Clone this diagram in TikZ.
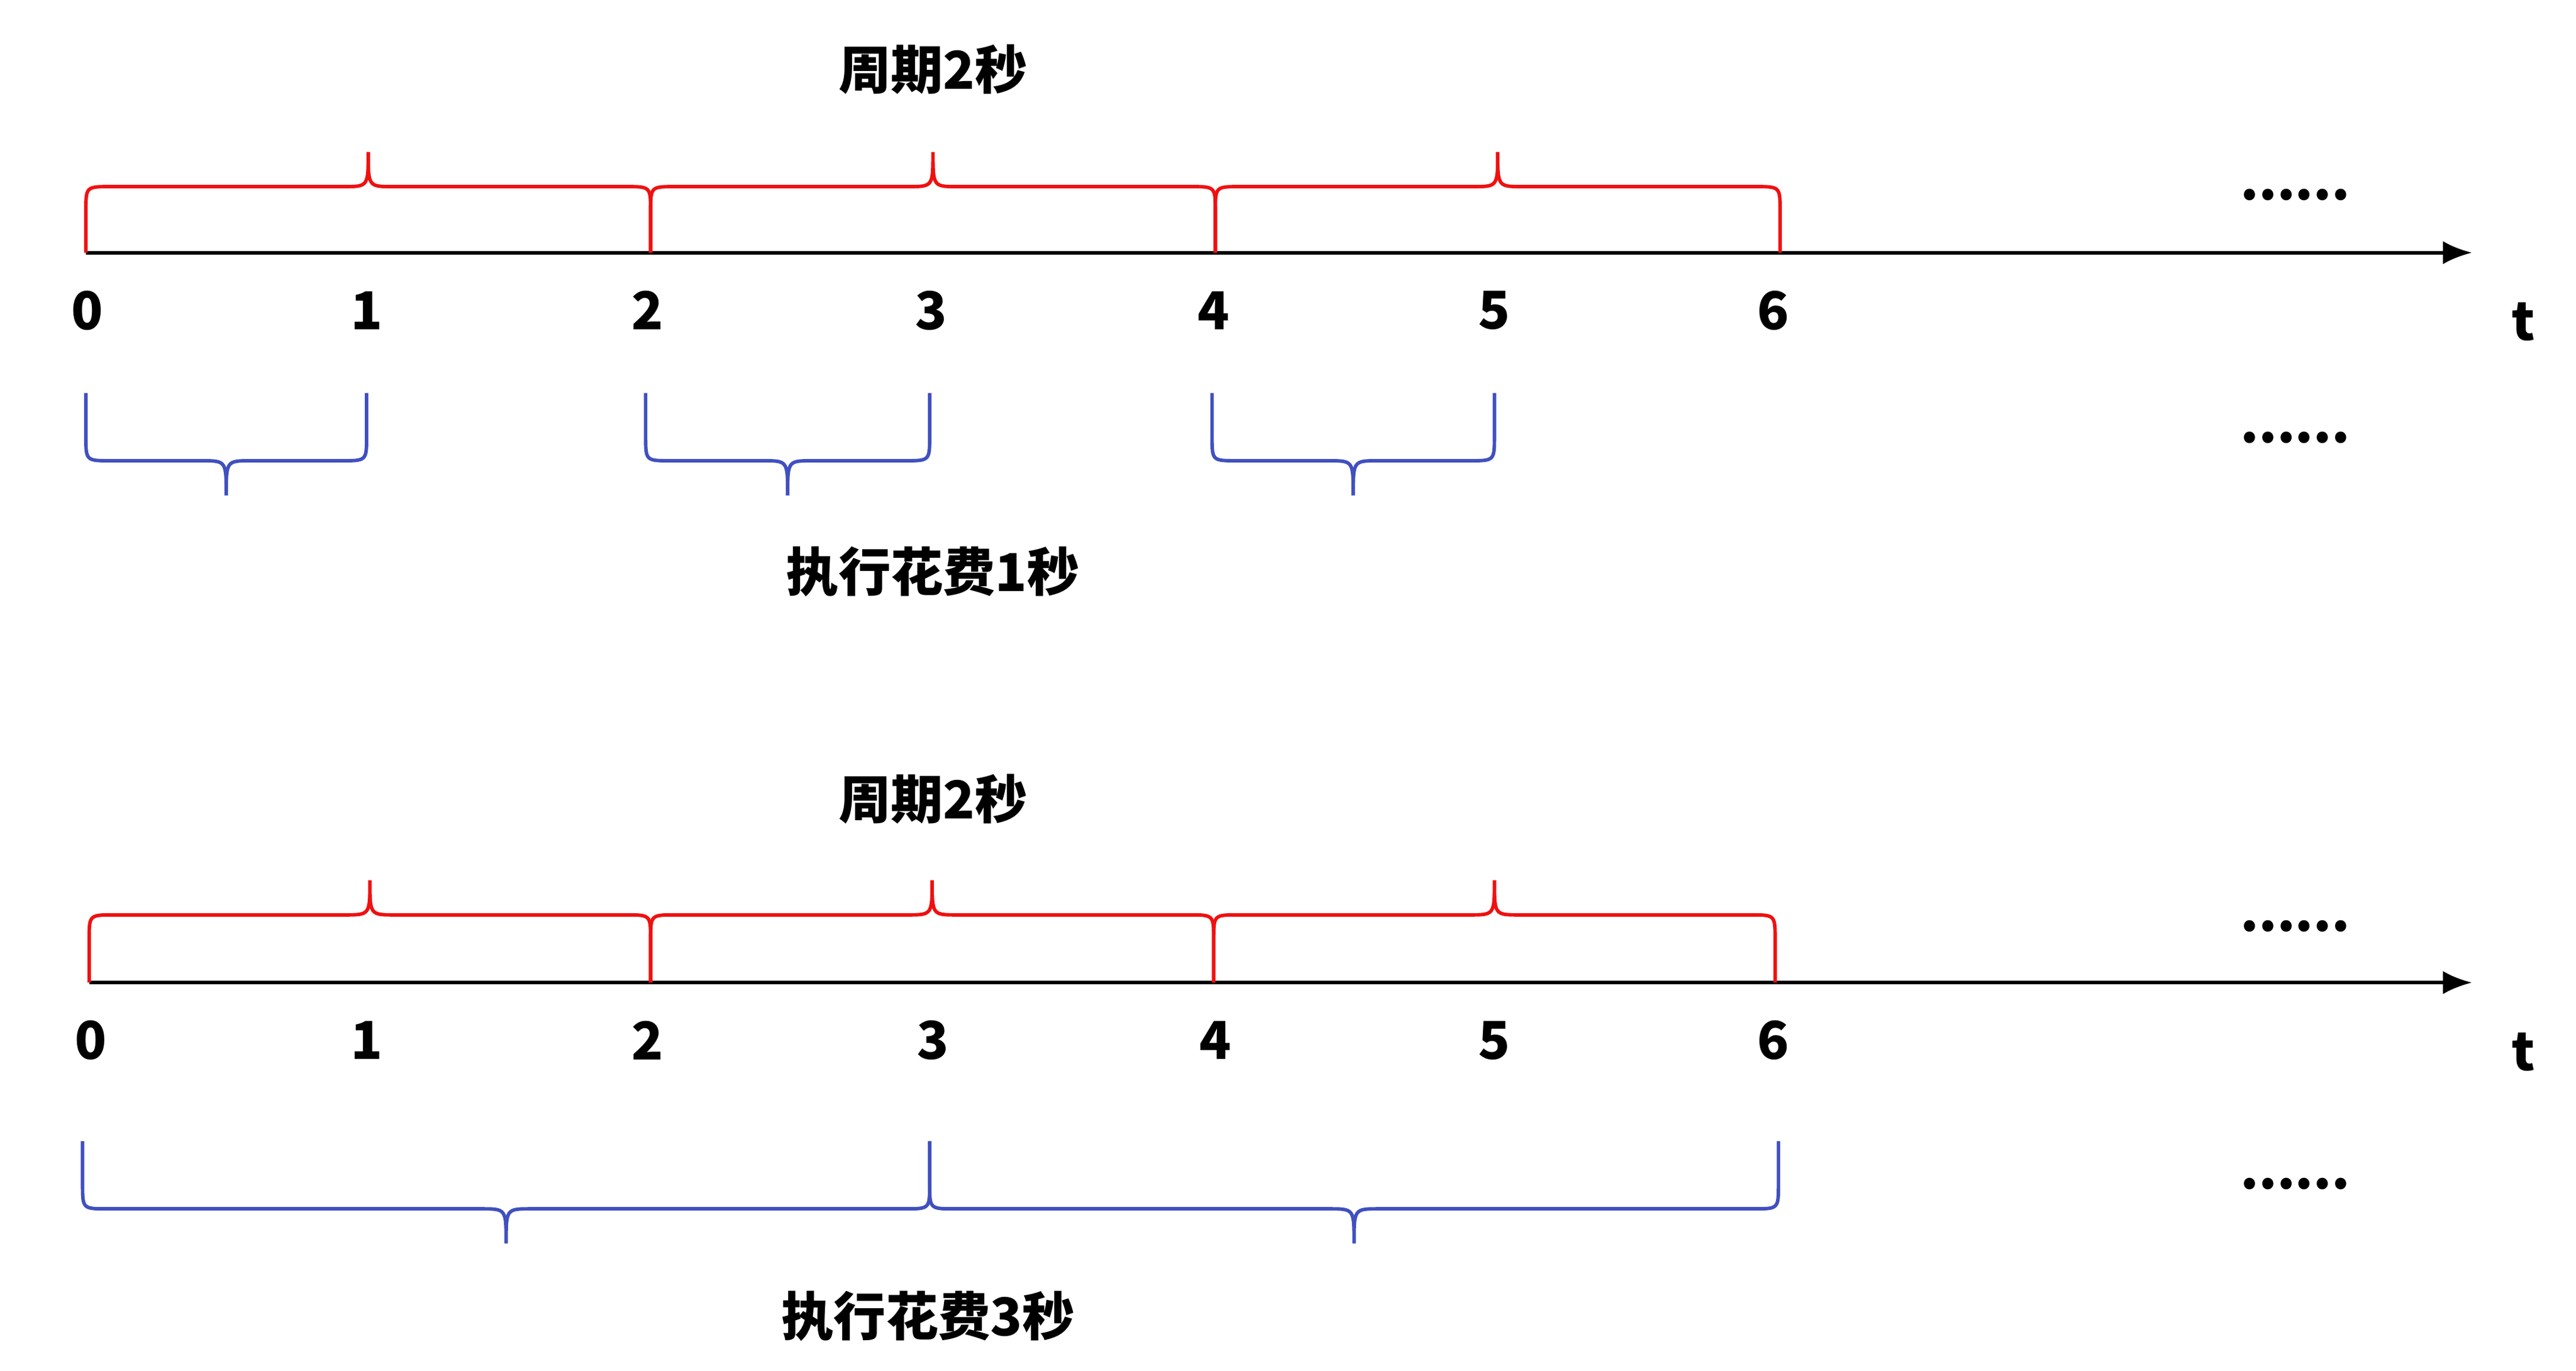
\documentclass[tikz,border=0pt]{standalone}
\usepackage{fontspec}
\setmainfont{Noto Sans CJK SC}
\usetikzlibrary{arrows.meta}
\definecolor{rc}{HTML}{F01010}
\definecolor{bc}{HTML}{4050C0}
\newcommand{\brc}[7]{% style x1 x2 yb yl yt vr (signed)
  \pgfmathsetmacro{\mm}{(#2+#3)/2}
  \draw[#1] (#2,#4) -- (#2,#5+#7) .. controls (#2,#5) .. (#2+15,#5) -- (\mm-15,#5) .. controls (\mm,#5) .. (\mm,#6)
  .. controls (\mm,#5) .. (\mm+15,#5) -- (#3-15,#5) .. controls (#3,#5) .. (#3,#5+#7) -- (#3,#4);}
\begin{document}
\begin{tikzpicture}[x=0.01cm,y=-0.01cm,
  lbl/.style={font=\fontsize{9}{10}\selectfont\bfseries},
  axis/.style={line width=0.6pt,-{Latex[length=5pt,width=4pt]}},
  rb/.style={rc,line width=0.6pt},
  bb/.style={bc,line width=0.6pt}]
\useasboundingbox (0,0) rectangle (1560,830);
% ---- top
\coordinate (a0) at (52,153); \coordinate (a1) at (1497,153);
\draw[axis] (a0) -- (a1);
\foreach \x/\t in {53/0,222/1,392/2,564/3,735/4,905/5,1074/6}{\node[lbl] (ta\t) at (\x,188) {\t};}
\node[lbl] (tat) at (1528,195) {t};
\brc{rb}{52}{394}{153}{113}{92}{15}
\brc{rb}{394}{736}{153}{113}{92}{15}
\brc{rb}{736}{1078}{153}{113}{92}{15}
\brc{bb}{52}{222}{238}{279}{300}{-15}
\brc{bb}{391}{563}{238}{279}{300}{-15}
\brc{bb}{734}{905}{238}{279}{300}{-15}
\node[lbl] (p1) at (565,42) {周期2秒};
\node[lbl] (e1) at (565,346) {执行花费1秒};
\node[lbl] (d1) at (1390,118) {......};
\node[lbl] (d2) at (1390,265) {......};
% ---- bottom
\coordinate (b0) at (54,595); \coordinate (b1) at (1497,595);
\draw[axis] (b0) -- (b1);
\foreach \x/\t in {55/0,222/1,392/2,565/3,736/4,905/5,1074/6}{\node[lbl] (tb\t) at (\x,630) {\t};}
\node[lbl] (tbt) at (1528,637) {t};
\brc{rb}{54}{394}{595}{554}{533}{15}
\brc{rb}{394}{735}{595}{554}{533}{15}
\brc{rb}{735}{1075}{595}{554}{533}{15}
\brc{bb}{50}{563}{691}{732}{753}{-15}
\brc{bb}{563}{1077}{691}{732}{753}{-15}
\node[lbl] (p2) at (565,484) {周期2秒};
\node[lbl] (e2) at (562,797) {执行花费3秒};
\node[lbl] (d3) at (1390,561) {......};
\node[lbl] (d4) at (1390,717) {......};
\end{tikzpicture}
\end{document}
